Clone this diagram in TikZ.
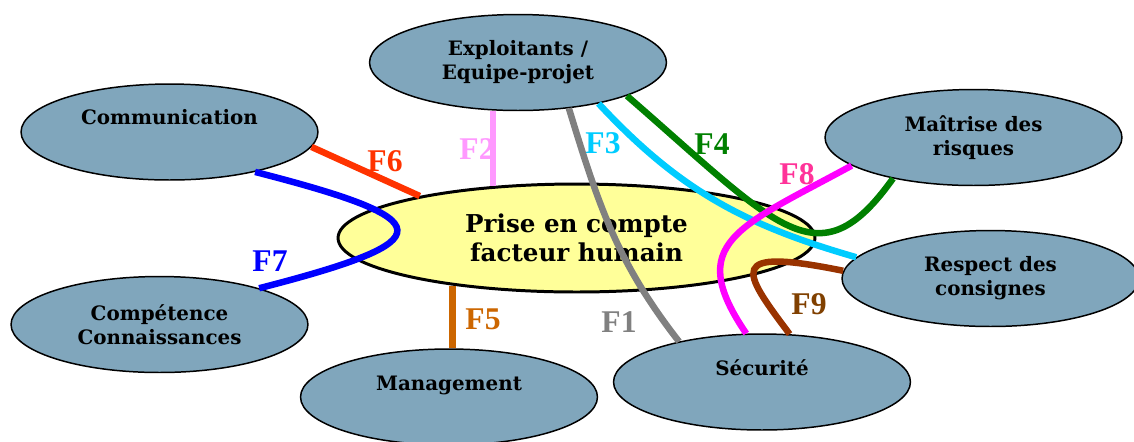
\documentclass[tikz,border=0pt]{standalone}
\usepackage{fontspec}
\setmainfont{DejaVu Serif}
\newfontfamily\labelfont{Liberation Serif}
\usepackage{xcolor}
\usepackage{tikz}
\usetikzlibrary{shapes.geometric}

\definecolor{ovalblue}{RGB}{128,166,188}
\definecolor{coreyellow}{RGB}{255,255,153}
\definecolor{fonecol}{RGB}{128,128,128}
\definecolor{ftwocol}{RGB}{255,153,255}
\definecolor{fthreecol}{RGB}{0,204,255}
\definecolor{ffourcol}{RGB}{0,128,0}
\definecolor{ffivecol}{RGB}{204,102,0}
\definecolor{fsixcol}{RGB}{255,51,0}
\definecolor{fsevencol}{RGB}{0,0,255}
\definecolor{feightcol}{RGB}{255,0,255}
\definecolor{feightlab}{RGB}{255,51,153}
\definecolor{fninecol}{RGB}{153,51,0}
\definecolor{fninelab}{RGB}{128,64,0}

\begin{document}
\begin{tikzpicture}[
        x=0.02cm, y=-0.02cm,
        font=\bfseries\fontsize{11.3}{13.6}\selectfont,
        theme/.style={ellipse, draw=black, line width=0.85pt, fill=ovalblue,
            minimum width=5.94cm, minimum height=1.92cm, inner sep=0pt, align=center},
        core/.style={ellipse, draw=black, line width=1.7pt, fill=coreyellow,
            minimum width=9.54cm, minimum height=2.16cm, inner sep=0pt, align=center,
            font=\bfseries\fontsize{14}{16.5}\selectfont},
        single/.style={text height=8pt, text depth=#1},
        link/.style={line width=3.7pt},
        flab/.style={font=\labelfont\bfseries\fontsize{18}{18}\selectfont, inner sep=0pt}
    ]
    \useasboundingbox (0,0) rectangle (1134,441);

    \node[theme] (exp) at (518,62.5) {Exploitants /\\Equipe-projet};
    \node[theme, single=16.8pt] (com) at (169.5,132) {Communication};
    \node[theme] (mai) at (973.5,137.5) {Maîtrise des\\risques};
    \node[core] (pec) at (576.5,238) {Prise en compte\\facteur humain};
    \node[theme] (res) at (990.5,278.5) {Respect des\\consignes};
    \node[theme] (cmp) at (159.5,324.5) {Compétence\\Connaissances};
    \node[theme, single=15.1pt] (man) at (449,397) {Management};
    \node[theme, single=15.1pt] (sec) at (762,382) {Sécurité};

    \draw[link, fsixcol] (com.-6) -- (pec.165);
    \draw[link, ftwocol] (pec.148) -- (pec.148 |- exp.south);
    \draw[link, ffivecol] (pec.201) -- (pec.201 |- man.north);
    \draw[link, fsevencol] (com.-25) .. controls +(187,48) and +(187,-48) .. (cmp.20);
    \draw[link, fonecol] (exp.-42) to[out=-73, in=128] (sec.154);
    \draw[link, fthreecol] (exp.-27) to[out=-47, in=164] (res.171);
    \draw[link, ffourcol] (exp.-17) .. controls +(151,131) and +(-75,105) .. (mai.207);
    \draw[link, fninecol] (res.177) .. controls +(-118,-24) and +(-48,-64) .. (sec.60);
    \draw[link, feightcol] (mai.193) .. controls +(-114,62) and +(-62,-91) .. (sec.108);

    \node[flab, text=fonecol] (fone) at (619,322) {F1};
    \node[flab, text=ftwocol] (ftwo) at (477,149) {F2};
    \node[flab, text=fthreecol] (fthree) at (603,143) {F3};
    \node[flab, text=ffourcol] (ffour) at (712,144) {F4};
    \node[flab, text=ffivecol] (ffive) at (483,319) {F5};
    \node[flab, text=fsixcol] (fsix) at (385,161) {F6};
    \node[flab, text=fsevencol] (fseven) at (270,261) {F7};
    \node[flab, text=feightlab] (feight) at (797,174) {F8};
    \node[flab, text=fninelab] (fnine) at (809,304) {F9};
\end{tikzpicture}
\end{document}
